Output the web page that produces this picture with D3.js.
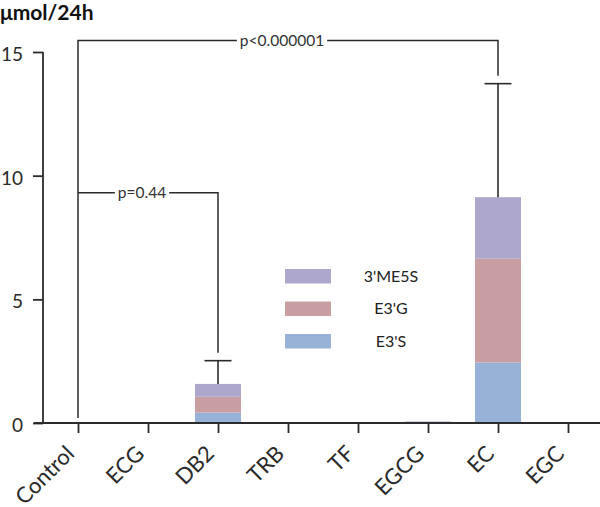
<!DOCTYPE html>
<html><head><meta charset="utf-8">
<script src="https://cdn.jsdelivr.net/npm/d3@7"></script>
<style>body{margin:0;background:#fff}svg{display:block;font-family:Lato,"Open Sans",sans-serif}</style>
</head><body><svg id="c" width="600" height="507"></svg>
<script>
const categories = ["Control","ECG","DB2","TRB","TF","EGCG","EC","EGC"];
const seriesNames = ["E3'S","E3'G","3'ME5S"];
const E3S  = [0,0,0.42,0,0,0.02,2.45,0];
const E3G  = [0,0,0.64,0,0,0.02,4.19,0];
const ME5S = [0,0,0.52,0,0,0.02,2.49,0];
const errTop = [null,null,2.52,null,null,null,13.72,null];
const yTicks = [0,5,10,15];
const brackets = [
  {from:"Control", to:"DB2", y:9.31, label:"p=0.44"},
  {from:"Control", to:"EC", y:15.47, label:"p<0.000001"}
];
const colors = ["#98b1d7","#c99ea3","#aea7cc"];

const svg = d3.select("#c");
const x = d3.scalePoint().domain(categories).range([43,603]).padding(0.5);
const y = d3.scaleLinear().domain([0,15]).range([423,52]);
const barW = 46, ink = "#2b2b2b";

const rows = categories.map((c,i)=>({cat:c, "E3'S":E3S[i], "E3'G":E3G[i], "3'ME5S":ME5S[i]}));
const stack = d3.stack().keys(seriesNames)(rows);
svg.append("g").selectAll("g").data(stack).join("g").attr("fill",(d,i)=>colors[i])
  .selectAll("rect").data(d=>d).join("rect")
  .attr("x",d=>x(d.data.cat)-barW/2).attr("width",barW)
  .attr("y",d=>y(d[1])).attr("height",d=>Math.max(0,y(d[0])-y(d[1])));

// error bars
const totals = categories.map((c,i)=>E3S[i]+E3G[i]+ME5S[i]);
categories.forEach((c,i)=>{
  if(errTop[i]==null) return;
  const g = svg.append("g").attr("stroke",ink).attr("stroke-width",1.6);
  g.append("line").attr("x1",x(c)).attr("x2",x(c)).attr("y1",y(totals[i])).attr("y2",y(errTop[i]));
  g.append("line").attr("x1",x(c)-13.5).attr("x2",x(c)+13.5).attr("y1",y(errTop[i])).attr("y2",y(errTop[i]));
});

// axes
const yAxis = svg.append("g").attr("transform","translate(43,0)")
  .call(d3.axisLeft(y).tickValues(yTicks).tickSize(10).tickPadding(10).tickFormat(d3.format("d")));
yAxis.select(".domain").attr("d",`M0,${y(15)}V${y(0)}`);
const xAxis = svg.append("g").attr("transform",`translate(0,${y(0)})`)
  .call(d3.axisBottom(x).tickSize(10).tickSizeOuter(0).tickPadding(0));
xAxis.select(".domain").attr("d","M34,0H600");
[yAxis,xAxis].forEach(a=>{
  a.selectAll(".domain,.tick line").attr("stroke",ink).attr("stroke-width",1.8);
  a.selectAll("text").attr("fill","#2a2a2a").style("font-family","Lato");
});
yAxis.selectAll(".tick text").style("font-size","19px").attr("dy","0.45em");
xAxis.selectAll(".tick text").style("font-size","22px").attr("text-anchor","end").attr("dy",0)
  .attr("transform","translate(-10,25) rotate(-45)");

// brackets
brackets.forEach((b,i)=>{
  const x1 = x(b.from), x2 = x(b.to), yy = y(b.y);
  const j = categories.indexOf(b.to);
  const g = svg.append("g");
  const t = g.append("text").attr("x",(x1+x2)/2-6).attr("y",yy).attr("dy","0.36em")
    .attr("text-anchor","middle").attr("fill","#333").style("font-size","15.5px").text(b.label);
  const bb = t.node().getBBox();
  const ln = g.append("g").attr("stroke",ink).attr("stroke-width",1.5).attr("fill","none");
  ln.append("path").attr("d",`M${x1},${i===brackets.length-1?y(0)-5:yy}V${yy}H${bb.x-3}`);
  ln.append("path").attr("d",`M${bb.x+bb.width+3},${yy}H${x2}V${y(errTop[j])-8}`);
});

// legend
const lg = svg.append("g");
const legendOrder = ["3'ME5S","E3'G","E3'S"];
legendOrder.forEach((n,k)=>{
  const cy = 276 + k*32.5;
  lg.append("rect").attr("x",285).attr("y",cy-7).attr("width",46).attr("height",14.5)
    .attr("fill",colors[seriesNames.indexOf(n)]);
  lg.append("text").attr("x",391).attr("y",cy).attr("dy","0.36em").attr("text-anchor","middle")
    .attr("fill","#222").style("font-size","16px").text(n);
});

svg.append("text").attr("x",0).attr("y",20).attr("fill","#111").style("font-size","21px")
  .style("font-weight","bold").text("μmol/24h");
</script></body></html>
